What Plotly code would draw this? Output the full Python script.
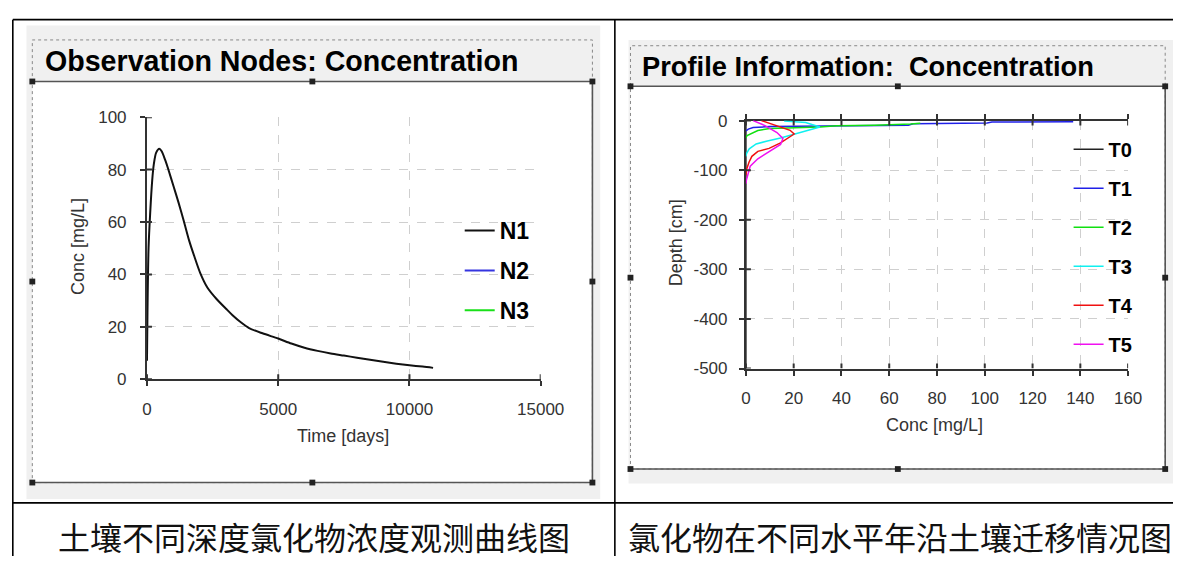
import plotly.graph_objects as go

W, H = 1197, 566

# ---------------- data: observation nodes ----------------
obs_time = [0, 20, 60, 120, 200, 260, 350, 470, 560, 700, 800, 1000, 1200, 1400, 1610,
            1800, 2030, 2300, 2650, 3000, 3260, 3600, 3890, 4400, 5000, 5500, 6000, 6500,
            7000, 7500, 8000, 8500, 9000, 9500, 10000, 10500, 10900]
obs_n1 = [7, 26, 50, 63, 76, 82, 86.5, 88, 87, 83.5, 80.5, 74, 67.5, 60.5, 52.8,
          47, 40.5, 35, 30.6, 27, 24.4, 21.5, 19.5, 17.5, 15.5, 13.6, 12, 10.8,
          9.8, 9, 8.2, 7.4, 6.6, 5.9, 5.3, 4.8, 4.3]
obs_names = ["N1", "N2", "N3"]
obs_colors = ["#111111", "#3535e0", "#19e019"]

obs_xticks = [0, 5000, 10000, 15000]
obs_yticks = [0, 20, 40, 60, 80, 100]

# ---------------- data: profile information ----------------
t0_conc = [0, 0]
t0_depth = [0, -500]
t1_conc = [137, 103, 101, 70, 68, 40, 10, 3, 1, 0]
t1_depth = [-2.5, -3, -5, -6.5, -9.5, -10.5, -12, -14, -17, -21]
t2_conc = [73, 69, 54, 38, 31, 10, 5, 2.5, 0.5, 0]
t2_depth = [-5.5, -7, -9.5, -10.5, -13, -16, -20, -25, -30, -35]
t3_conc = [16, 20, 25, 31, 20, 14.5, 9, 4.3, 1.4, 0.3, 0]
t3_depth = [-1, -2, -4, -13, -28, -35, -41, -47, -57, -66, -72]
t4_conc = [6.5, 12.4, 18.5, 20.2, 16.5, 14.5, 9.7, 5, 2.5, 1.3, 0.3, 0]
t4_depth = [0, -10, -19.5, -27, -38, -45, -56, -62, -72, -84, -98, -110]
t5_conc = [3, 8, 13, 15.5, 14.5, 10, 5, 1.8, 0.7, 0.2, 0]
t5_depth = [0, -10, -24, -36, -48, -62, -77, -92, -108, -120, -127]
prof_names = ["T0", "T1", "T2", "T3", "T4", "T5"]
prof_colors = ["#222222", "#2020e8", "#10e010", "#10f0f0", "#f01010", "#f010f0"]

prof_xticks = [0, 20, 40, 60, 80, 100, 120, 140, 160]
prof_yticks = [-500, -400, -300, -200, -100, 0]

captions = ["土壤不同深度氯化物浓度观测曲线图", "氯化物在不同水平年沿土壤迁移情况图"]
titles = ["Observation Nodes: Concentration", "Profile Information:\u00a0 Concentration"]

FONT = "Liberation Sans, Arial, sans-serif"
CJK = "Noto Sans CJK SC"
AXC = "#333333"


def px(x):
    return x / W


def py(y):
    return 1 - y / H


fig = go.Figure()

# observation traces
fig.add_trace(go.Scatter(x=obs_time, y=obs_n1, mode="lines", name=obs_names[0],
                         line=dict(color=obs_colors[0], width=2, shape="spline", smoothing=0.8),
                         xaxis="x", yaxis="y", legend="legend", legendgroup="n1"))
for nm, col in zip(obs_names[1:], obs_colors[1:]):
    fig.add_trace(go.Scatter(x=[None], y=[None], mode="lines", name=nm,
                             line=dict(color=col, width=2),
                             xaxis="x", yaxis="y", legend="legend", legendgroup=nm))

# profile traces
prof = [(t0_conc, t0_depth), (t1_conc, t1_depth), (t2_conc, t2_depth),
        (t3_conc, t3_depth), (t4_conc, t4_depth), (t5_conc, t5_depth)]
for (c, d), nm, col in zip(prof, prof_names, prof_colors):
    fig.add_trace(go.Scatter(x=c, y=d, mode="lines", name=nm,
                             line=dict(color=col, width=1.5),
                             xaxis="x2", yaxis="y2", legend="legend2", legendgroup=nm))

tickfont = dict(family=FONT, size=17, color=AXC)
grid = dict(showgrid=True, gridcolor="#cfcfcf", griddash="dash", gridwidth=1)
axline = dict(showline=True, linecolor=AXC, linewidth=2, zeroline=False,
              ticks="outside", ticklen=5, tickwidth=2, tickcolor=AXC,
              tickfont=tickfont, layer="below traces")

fig.update_layout(
    width=W, height=H, margin=dict(l=0, r=0, t=0, b=0),
    paper_bgcolor="white", plot_bgcolor="rgba(0,0,0,0)",
    xaxis=dict(domain=[px(145.5), px(549)], range=[0, 15000], tickvals=obs_xticks,
               ticktext=[str(v) for v in obs_xticks],
               anchor="y", ticklabelstandoff=8, **grid, **axline),
    yaxis=dict(domain=[py(383), py(112)], range=[0, 100], tickvals=obs_yticks,
               ticktext=[str(v) for v in obs_yticks],
               anchor="x", ticklabelstandoff=10, **grid, **axline),
    xaxis2=dict(domain=[px(759.3), px(1151)], range=[0, 160], tickvals=prof_xticks,
                ticktext=[str(v) for v in prof_xticks],
                anchor="y2", mirror="ticks", ticklabelstandoff=8, **grid, **axline),
    yaxis2=dict(domain=[py(372), py(115.5)], range=[-500, 0], tickvals=prof_yticks,
                ticktext=[str(v) for v in prof_yticks],
                anchor="x2", ticklabelstandoff=8, **grid, **axline),
    showlegend=True,
    legend=dict(x=px(466), y=py(207), xanchor="left", yanchor="top",
                bgcolor="rgba(0,0,0,0)", tracegroupgap=7, itemwidth=30,
                font=dict(family=FONT, size=23, color="black", weight="bold")),
    legend2=dict(x=px(1090), y=py(125), xanchor="left", yanchor="top",
                 bgcolor="rgba(0,0,0,0)", tracegroupgap=10, itemwidth=30,
                 font=dict(family=FONT, size=20, color="black", weight="bold")),
)

shapes = []


def rect(x0, y0, x1, y1, **kw):
    shapes.append(dict(type="rect", xref="paper", yref="paper",
                       x0=px(x0), x1=px(x1), y0=py(y1), y1=py(y0), **kw))


def line(x0, y0, x1, y1, color, width, dash="solid", layer="above"):
    shapes.append(dict(type="line", xref="paper", yref="paper",
                       x0=px(x0), x1=px(x1), y0=py(y0), y1=py(y1),
                       line=dict(color=color, width=width, dash=dash), layer=layer))


# gray panels and white chart frames
rect(22, 17, 610, 507, fillcolor="#f0f0f0", line=dict(width=0), layer="below")
rect(639, 32, 1197, 491, fillcolor="#f0f0f0", line=dict(width=0), layer="below")
rect(28, 75, 602, 490, fillcolor="white", line=dict(width=0), layer="below")
rect(641, 80, 1189, 476, fillcolor="white", line=dict(width=0), layer="below")
# dotted outer frames
rect(28, 32, 602, 490, fillcolor="rgba(0,0,0,0)", line=dict(color="#888888", width=1, dash="dot"), layer="below")
rect(641, 38, 1189, 476, fillcolor="rgba(0,0,0,0)", line=dict(color="#888888", width=1, dash="dot"), layer="below")
# solid frame lines
for (x0, y0, x1, y1) in [(28, 75, 602, 75), (602, 75, 602, 490), (28, 490, 602, 490),
                         (641, 80, 1189, 80), (1189, 80, 1189, 476), (641, 476, 1189, 476)]:
    line(x0, y0, x1, y1, "#555555", 1.6)
# selection handles
for (hx, hy) in [(28, 75), (315, 75), (602, 75), (28, 282), (602, 282), (28, 490), (315, 490), (602, 490),
                 (641, 80), (915, 80), (1189, 80), (641, 278), (1189, 278), (641, 476), (915, 476), (1189, 476)]:
    rect(hx - 3, hy - 3, hx + 3, hy + 3, fillcolor="#222222", line=dict(width=0), layer="above")

# table borders
line(8, 11, W, 11, "black", 1.6)
line(8, 511, W, 511, "black", 1.6)
line(8, 11, 8, H, "black", 1.6)
line(625, 11, 625, H, "black", 1.6)

# inner half of crossing tick marks
for v in obs_yticks:
    shapes.append(dict(type="line", xref="x", yref="y", xsizemode="pixel", xanchor=0,
                       x0=0, x1=5, y0=v, y1=v, line=dict(color=AXC, width=2)))
for v in obs_xticks:
    shapes.append(dict(type="line", xref="x", yref="y", ysizemode="pixel", yanchor=0,
                       y0=0, y1=5, x0=v, x1=v, line=dict(color=AXC, width=2)))
for v in prof_yticks:
    shapes.append(dict(type="line", xref="x2", yref="y2", xsizemode="pixel", xanchor=0,
                       x0=0, x1=5, y0=v, y1=v, line=dict(color=AXC, width=2)))
for v in prof_xticks:
    shapes.append(dict(type="line", xref="x2", yref="y2", ysizemode="pixel", yanchor=-500,
                       y0=0, y1=5, x0=v, x1=v, line=dict(color=AXC, width=2)))
    shapes.append(dict(type="line", xref="x2", yref="y2", ysizemode="pixel", yanchor=0,
                       y0=-5, y1=0, x0=v, x1=v, line=dict(color=AXC, width=2)))

fig.update_layout(shapes=shapes)

ann = []


def text(x, y, s, size, family=FONT, color="black", weight="normal", xanchor="center", angle=0):
    ann.append(dict(x=px(x), y=py(y), xref="paper", yref="paper", text=s, showarrow=False,
                    xanchor=xanchor, yanchor="middle", textangle=angle,
                    font=dict(family=family, size=size, color=color, weight=weight)))


text(38.7, 54, titles[0], 28.6, weight="bold", xanchor="left")
text(651, 60, titles[1], 27.3, weight="bold", xanchor="left")
text(75, 246, "Conc [mg/L]", 18, color=AXC, angle=-90)
text(346, 442, "Time [days]", 18, color=AXC)
text(688, 242, "Depth [cm]", 18, color=AXC, angle=-90)
text(953, 430, "Conc [mg/L]", 18, color=AXC)
text(317, 545, captions[0], 32, family=CJK, color="#111111")
text(917, 545, captions[1], 32, family=CJK, color="#111111")
fig.update_layout(annotations=ann)

fig.write_html("out.html")
